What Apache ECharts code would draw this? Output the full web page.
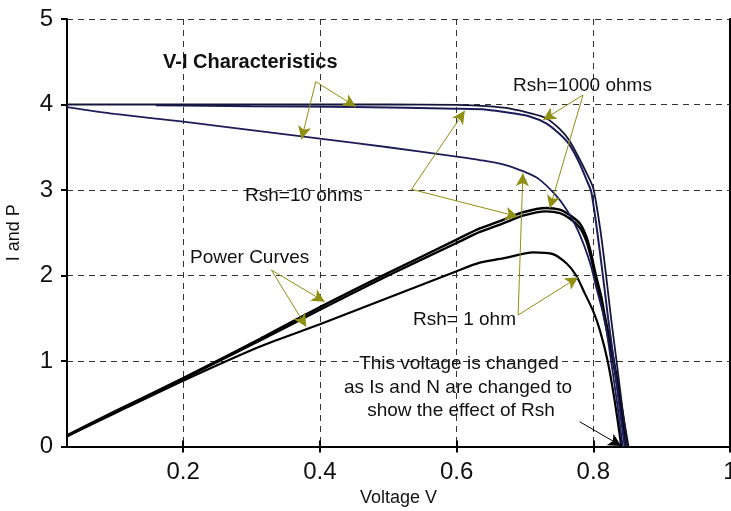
<!DOCTYPE html>
<html><head><meta charset="utf-8">
<script src="https://cdn.jsdelivr.net/npm/echarts@6/dist/echarts.min.js"></script>
<style>html,body{margin:0;padding:0;background:#fff}#c{width:731px;height:511px}</style>
</head><body><div id="c"></div>
<script>
// ---- data ----
const xMin = 0.03, xMax = 1;
const yMin = 0, yMax = 5;

// I-V curve, Rsh = 1000 ohms (upper)
const ivAV = [0.03, 0.10, 0.20, 0.30, 0.40, 0.50, 0.60, 0.644, 0.68, 0.707, 0.731, 0.75, 0.765, 0.78, 0.79, 0.80, 0.81, 0.818, 0.826, 0.834, 0.842, 0.85];
const ivAI = [4.00, 4.00, 4.00, 4.00, 4.00, 4.00, 3.995, 3.98, 3.95, 3.90, 3.84, 3.72, 3.58, 3.36, 3.20, 3.02, 2.55, 2.05, 1.50, 1.00, 0.48, 0];
// I-V curve, second high-Rsh curve
const ivBV = [0.16, 0.30, 0.45, 0.60, 0.644, 0.68, 0.707, 0.731, 0.75, 0.765, 0.78, 0.79, 0.797, 0.806, 0.814, 0.822, 0.830, 0.838, 0.846];
const ivBI = [3.99, 3.98, 3.97, 3.95, 3.94, 3.90, 3.86, 3.78, 3.66, 3.53, 3.31, 3.12, 2.98, 2.50, 2.00, 1.48, 1.00, 0.48, 0];
// I-V curve, Rsh = 10 ohms
const ivCV = [0.03, 0.10, 0.20, 0.27, 0.40, 0.50, 0.60, 0.634, 0.668, 0.697, 0.72, 0.745, 0.761, 0.775, 0.787, 0.797, 0.804, 0.812, 0.818, 0.826, 0.835, 0.843];
const ivCI = [3.97, 3.89, 3.80, 3.73, 3.60, 3.50, 3.39, 3.35, 3.30, 3.22, 3.13, 2.94, 2.77, 2.57, 2.34, 2.10, 1.87, 1.63, 1.42, 1.00, 0.50, 0];
// Power curves
const pAV = [0.03, 0.10, 0.20, 0.3125, 0.40, 0.50, 0.60, 0.634, 0.668, 0.697, 0.731, 0.751, 0.765, 0.78, 0.79, 0.797, 0.803, 0.812, 0.817, 0.826, 0.835, 0.843, 0.851];
const pAP = [0.13, 0.41, 0.80, 1.26, 1.63, 2.03, 2.42, 2.55, 2.65, 2.74, 2.79, 2.77, 2.71, 2.61, 2.45, 2.25, 2.03, 1.74, 1.52, 1.17, 0.78, 0.38, 0];
const pBV = [0.03, 0.10, 0.20, 0.3125, 0.40, 0.50, 0.60, 0.634, 0.668, 0.697, 0.731, 0.751, 0.765, 0.78, 0.79, 0.797, 0.803, 0.812, 0.817, 0.826, 0.835, 0.842, 0.847];
const pBP = [0.12, 0.40, 0.79, 1.24, 1.60, 2.00, 2.38, 2.51, 2.61, 2.70, 2.75, 2.73, 2.67, 2.56, 2.40, 2.20, 1.98, 1.68, 1.47, 1.12, 0.72, 0.34, 0];
const pCV = [0.03, 0.10, 0.20, 0.3125, 0.40, 0.50, 0.60, 0.634, 0.668, 0.712, 0.741, 0.761, 0.775, 0.787, 0.80, 0.81, 0.821, 0.831, 0.841];
const pCP = [0.12, 0.39, 0.77, 1.17, 1.43, 1.74, 2.05, 2.15, 2.20, 2.27, 2.25, 2.14, 2.00, 1.80, 1.58, 1.35, 1.00, 0.55, 0];

// annotation arrows (data units): [fromV, fromI, toV, toI]
const oliveArrows = [
  [0.394, 4.267, 0.4525, 3.974],
  [0.394, 4.267, 0.373, 3.593],
  [0.785, 4.111, 0.7265, 3.819],
  [0.785, 4.111, 0.7363, 2.786],
  [0.534, 3.008, 0.612, 3.927],
  [0.534, 3.008, 0.690, 2.688],
  [0.329, 2.064, 0.407, 1.694],
  [0.329, 2.064, 0.380, 1.401],
  [0.690, 1.538, 0.697, 3.195],
  [0.690, 1.538, 0.778, 1.979]
];
const blackArrows = [[0.780, 0.290, 0.841, 0.006]];

const labelTexts = ['V-I Characteristics', 'Rsh=1000 ohms', 'Rsh=10 ohms', 'Power Curves', 'Rsh= 1 ohm',
  'This voltage is changed', 'as Is and N are changed to', 'show the effect of Rsh'];

// ---- chart ----
const zip = (a, b) => a.map((v, i) => [v, b[i]]);
const FONT = '"Liberation Sans", Arial, sans-serif';
const NAVY = '#1c1c58';
const OLIVE = '#8f8f14';

const chart = echarts.init(document.getElementById('c'), null, {renderer: 'canvas'});

function lineSeries(name, data, color, width, z) {
  return {name, type: 'line', data, showSymbol: false, symbol: 'none', smooth: 0.25,
    lineStyle: {color, width}, z, silent: true, animation: false, clip: true};
}

const axisCommon = {
  axisLine: {show: true, lineStyle: {color: '#000', width: 2}},
  axisTick: {show: true, inside: false, length: 6, lineStyle: {color: '#000', width: 2}},
};

const option = {
  animation: false,
  backgroundColor: '#fff',
  grid: {left: 67, right: 1, top: 19, bottom: 64.5, containLabel: false, outerBoundsMode: 'none'},
  xAxis: [{
    type: 'value', min: xMin, max: xMax, splitNumber: 5, position: 'bottom',
    ...axisCommon,
    axisLabel: {show: true, showMinLabel: false, margin: 14, color: '#111', fontSize: 24, fontFamily: FONT},
    splitLine: {show: true, lineStyle: {color: '#333', width: 1, type: [6, 5]}},
    name: 'Voltage V', nameLocation: 'middle', nameGap: 40,
    nameTextStyle: {color: '#111', fontSize: 18, fontFamily: FONT}
  }, {
    type: 'value', min: xMin, max: xMax, splitNumber: 5, position: 'top',
    ...axisCommon,
    axisLabel: {show: false}, splitLine: {show: false}
  }],
  yAxis: [{
    type: 'value', min: yMin, max: yMax, interval: 1, position: 'left',
    ...axisCommon,
    axisLabel: {show: true, margin: 14, color: '#111', fontSize: 24, fontFamily: FONT},
    splitLine: {show: true, lineStyle: {color: '#333', width: 1, type: [6, 5]}},
    name: 'I and P', nameLocation: 'middle', nameGap: 44, nameRotate: 90,
    nameTextStyle: {color: '#111', fontSize: 18, fontFamily: FONT}
  }, {
    type: 'value', min: yMin, max: yMax, interval: 1, position: 'right',
    ...axisCommon,
    axisLabel: {show: false}, splitLine: {show: false}
  }],
  series: [
    lineSeries('P Rsh=10', zip(pCV, pCP), '#000', 2.2, 3),
    lineSeries('P B', zip(pBV, pBP), '#000', 2.4, 3),
    lineSeries('P A', zip(pAV, pAP), '#000', 2.4, 3),
    lineSeries('IV Rsh=10', zip(ivCV, ivCI), NAVY, 1.8, 4),
    lineSeries('IV B', zip(ivBV, ivBI), NAVY, 2, 4),
    lineSeries('IV A', zip(ivAV, ivAI), '#15153a', 1.8, 4),
    {
      name: 'arrows', type: 'line', data: [], silent: true, z: 5,
      markLine: {
        silent: true, animation: false,
        symbol: ['none', 'arrow'], symbolSize: [10, 13],
        label: {show: false},
        lineStyle: {color: OLIVE, width: 1, type: 'solid'},
        emphasis: {disabled: true},
        data: oliveArrows.map(a => [{coord: [a[0], a[1]]}, {coord: [a[2], a[3]]}])
          .concat(blackArrows.map(a => [{coord: [a[0], a[1]], lineStyle: {color: '#000', width: 1}},
                                         {coord: [a[2], a[3]], lineStyle: {color: '#000', width: 1}}]))
      }
    }
  ],
  graphic: [
    {type: 'text', x: 163, y: 62, z: 10, style: {text: labelTexts[0], font: 'bold 20px ' + FONT, fill: '#111', textAlign: 'left', textVerticalAlign: 'middle'}},
    {type: 'text', x: 513, y: 86, z: 10, style: {text: labelTexts[1], font: '19px ' + FONT, fill: '#111', textAlign: 'left', textVerticalAlign: 'middle'}},
    {type: 'text', x: 245, y: 196, z: 10, style: {text: labelTexts[2], font: '19px ' + FONT, fill: '#111', textAlign: 'left', textVerticalAlign: 'middle'}},
    {type: 'text', x: 190, y: 257.5, z: 10, style: {text: labelTexts[3], font: '19px ' + FONT, fill: '#111', textAlign: 'left', textVerticalAlign: 'middle'}},
    {type: 'text', x: 413, y: 320, z: 10, style: {text: labelTexts[4], font: '19px ' + FONT, fill: '#111', textAlign: 'left', textVerticalAlign: 'middle'}},
    {type: 'text', x: 459, y: 364, z: 10, style: {text: labelTexts[5], font: '19px ' + FONT, fill: '#111', textAlign: 'center', textVerticalAlign: 'middle'}},
    {type: 'text', x: 458, y: 388, z: 10, style: {text: labelTexts[6], font: '19px ' + FONT, fill: '#111', textAlign: 'center', textVerticalAlign: 'middle'}},
    {type: 'text', x: 461, y: 410.5, z: 10, style: {text: labelTexts[7], font: '19px ' + FONT, fill: '#111', textAlign: 'center', textVerticalAlign: 'middle'}}
  ]
};
chart.setOption(option);
</script></body></html>
